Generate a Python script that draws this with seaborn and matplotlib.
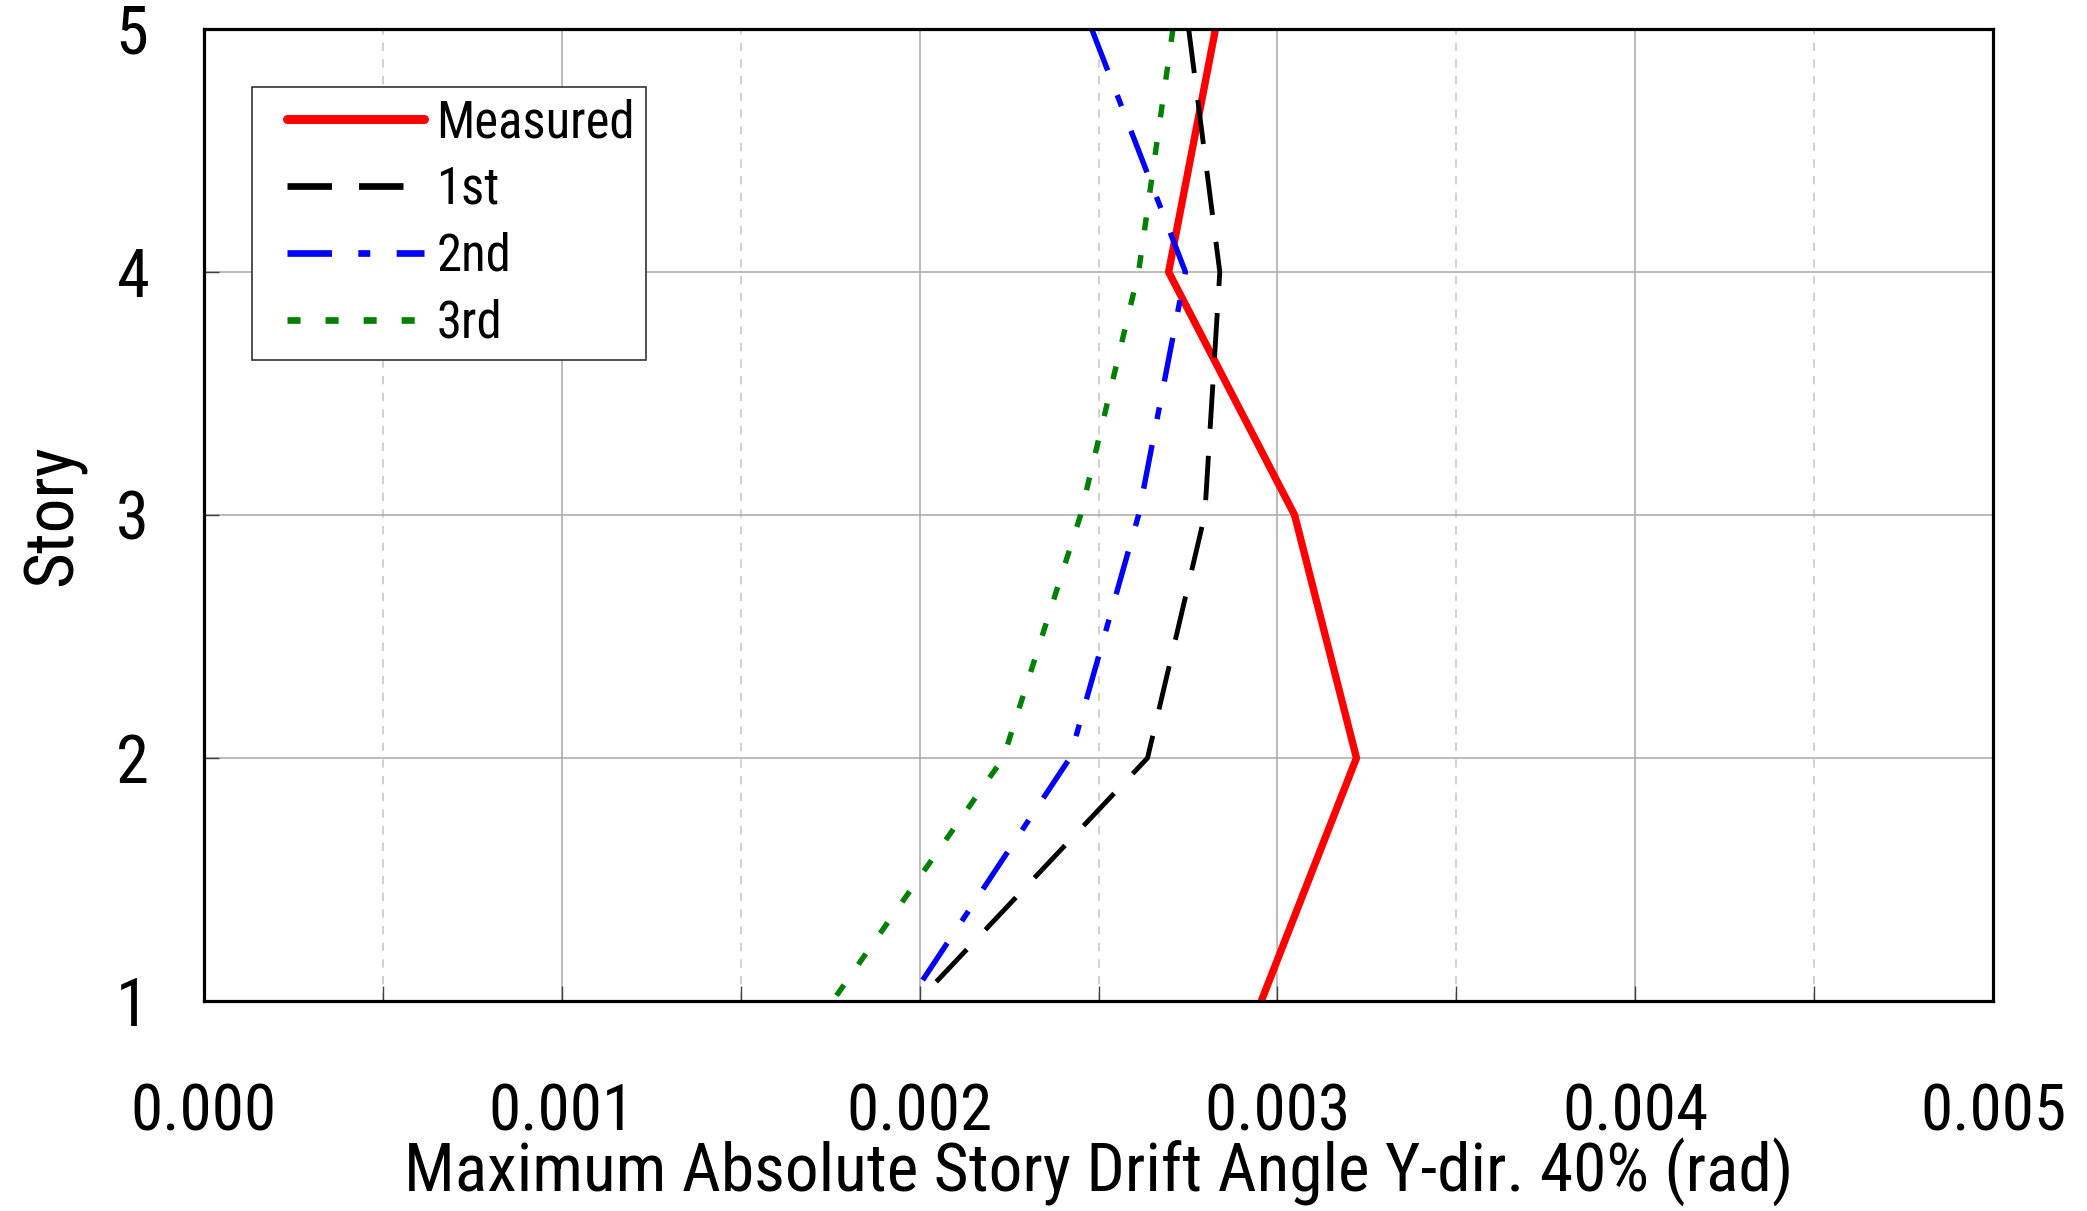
import numpy as np
import pandas as pd
import matplotlib
matplotlib.use("Agg")
import matplotlib.pyplot as plt
import seaborn as sns
from matplotlib import font_manager as fm
from matplotlib.lines import Line2D
from matplotlib.legend_handler import HandlerLine2D
from matplotlib.ticker import FixedLocator, MultipleLocator

# ---------------- data (top story first) ----------------
stories = [5, 4, 3, 2, 1]
measured = [0.002827, 0.002696, 0.003048, 0.003221, 0.002955]
first = [0.002752, 0.002839, 0.002797, 0.002637, 0.001996]
second = [0.002481, 0.002743, 0.002612, 0.002420, 0.001970]
third = [0.002708, 0.002612, 0.002450, 0.002234, 0.001757]
series_names = ["Measured", "1st", "2nd", "3rd"]
x_ticks = [0.000, 0.001, 0.002, 0.003, 0.004, 0.005]
x_tick_labels = ["0.000", "0.001", "0.002", "0.003", "0.004", "0.005"]
y_ticks = [1, 2, 3, 4, 5]
y_tick_labels = ["1", "2", "3", "4", "5"]
x_label = "Maximum Absolute Story Drift Angle Y-dir. 40% (rad)"
y_label = "Story"

# ---------------- style ----------------
sns.set_theme(style="white")
names = {f.name for f in fm.fontManager.ttflist}
family = "DejaVu Sans"
for cand in ["Roboto Condensed", "Liberation Sans Narrow", "Archivo Narrow",
             "Barlow Semi Condensed", "Open Sans Condensed", "Arial Narrow"]:
    if cand in names:
        family = cand
        break
plt.rcParams["font.family"] = [family, "DejaVu Sans"]
plt.rcParams["lines.scale_dashes"] = False
plt.rcParams["text.color"] = "black"
plt.rcParams["axes.labelcolor"] = "black"
plt.rcParams["xtick.color"] = "black"
plt.rcParams["ytick.color"] = "black"

df = pd.DataFrame({
    "Story": stories * 4,
    "Drift": measured + first + second + third,
    "Series": np.repeat(series_names, len(stories)),
})

palette = {"Measured": "#ff0000", "1st": "#000000", "2nd": "#0000ff", "3rd": "#008000"}
dash_map = {"Measured": "", "1st": (32, 19.5), "2nd": (32, 19, 8.6, 19), "3rd": (9.4, 18)}
size_map = {"Measured": 5.3, "1st": 3.5, "2nd": 3.9, "3rd": 3.9}
legend_lw = {"Measured": 6.5, "1st": 4.8, "2nd": 4.8, "3rd": 4.8}

W, H = 2087, 1211
fig = plt.figure(figsize=(W / 100, H / 100), dpi=100)
ax = fig.add_axes([204 / W, 1 - 1001 / H, 1789 / W, 972 / H])

sns.lineplot(
    data=df, x="Drift", y="Story", hue="Series", style="Series", size="Series",
    hue_order=series_names, style_order=series_names, size_order=series_names,
    palette=palette, dashes=dash_map, sizes=size_map,
    estimator=None, sort=False, orient="y", legend=False, ax=ax,
)
for ln in ax.get_lines():
    ln.set_solid_capstyle("butt")
    ln.set_dash_capstyle("butt")

ax.set_xlim(0, 0.005)
ax.set_ylim(1, 5)
ax.xaxis.set_major_locator(FixedLocator(x_ticks))
ax.set_xticklabels(x_tick_labels)
ax.xaxis.set_minor_locator(MultipleLocator(0.0005))
ax.yaxis.set_major_locator(FixedLocator(y_ticks))
ax.set_yticklabels(y_tick_labels)

ax.set_axisbelow(True)
ax.grid(which="major", axis="both", color="#a8a8a8", lw=1.1, ls="-")
ax.grid(which="minor", axis="x", color="#c4c4c4", lw=1.1, ls=(0, (6, 6)))

ax.tick_params(axis="x", which="both", direction="in", length=11, width=1.0,
               color="#404040", labelcolor="black", labelsize=47, pad=58,
               bottom=True, top=False)
ax.tick_params(axis="y", which="major", direction="in", length=11, width=1.0,
               color="#404040", labelcolor="black", labelsize=48, pad=40,
               left=True, right=False)
for s in ax.spines.values():
    s.set_color("black")
    s.set_linewidth(2.3)
    s.set_visible(True)

ax.set_xlabel(x_label, fontsize=48.5, color="black")
ax.set_ylabel(y_label, fontsize=50, color="black")
ax.xaxis.set_label_coords(0.5, -0.141)
ax.yaxis.set_label_coords(-0.066, 0.5)

# legend
handles = []
for n in series_names:
    h = Line2D([], [], color=palette[n], lw=legend_lw[n], solid_capstyle="round",
               dash_capstyle="butt")
    if dash_map[n]:
        h.set_dashes(dash_map[n])
    handles.append(h)
leg = ax.legend(handles, series_names, loc="upper left",
                bbox_to_anchor=(0.0268, 0.9403), borderaxespad=0,
                fontsize=36.5, frameon=True, fancybox=False, framealpha=1,
                edgecolor="#333333", borderpad=0.22, labelspacing=0.33,
                handlelength=3.17, handletextpad=0.25,
                handler_map={Line2D: HandlerLine2D(xpad=0.48)})
leg.get_frame().set_linewidth(1.2)
for t in leg.get_texts():
    t.set_color("black")

fig.savefig("out.png", dpi=100)
